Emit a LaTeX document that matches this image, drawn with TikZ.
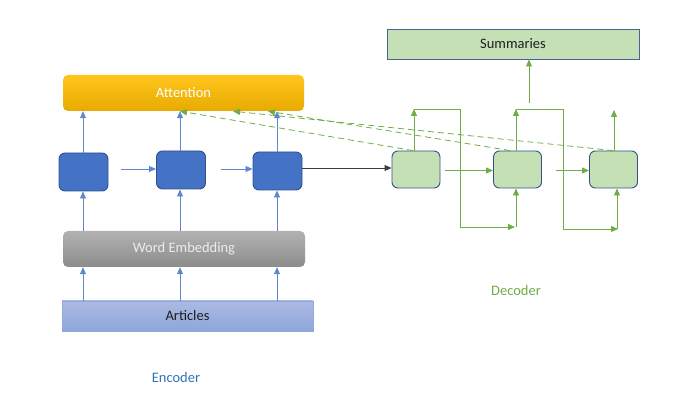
\documentclass[tikz,border=0pt]{standalone}
\usepackage{fontspec}
\setmainfont{Carlito}
\usetikzlibrary{arrows.meta,calc}
\definecolor{encblue}{HTML}{4472C4}
\definecolor{encborder}{HTML}{2F528F}
\definecolor{decfill}{HTML}{C5E0B4}
\definecolor{decgreen}{HTML}{70AD47}
\definecolor{enclabel}{HTML}{2E75B6}
\tikzset{
  every node/.style={font=\fontsize{14.5}{17}\selectfont, inner sep=0pt},
  encbox/.style={draw=encborder, fill=encblue, rounded corners=6pt, line width=0.9pt, minimum width=49pt, minimum height=38pt},
  decbox/.style={draw=encborder, fill=decfill, rounded corners=6pt, line width=0.9pt, minimum width=48pt, minimum height=37pt},
  barrow/.style={draw=encblue!85, line width=0.8pt, -{Triangle[length=7pt,width=6pt]}},
  garrow/.style={draw=decgreen, line width=0.8pt, -{Triangle[length=7pt,width=6pt]}},
  gline/.style={draw=decgreen, line width=0.8pt},
  gdash/.style={draw=decgreen, line width=0.8pt, dash pattern=on 6pt off 4pt, -{Triangle[length=7pt,width=6pt]}},
}
\begin{document}
\begin{tikzpicture}[x=1pt,y=-1pt]
\useasboundingbox (0,0) rectangle (690,411);
% encoder side
\node[rounded corners=5pt, top color=orange!30!yellow!100!white, bottom color=black!10!orange!80!yellow, shading angle=0, minimum width=241pt, minimum height=36pt, text=white, top color={rgb,255:red,255;green,198;blue,30}, bottom color={rgb,255:red,232;green,170;blue,0}] (att) at (183.5,93) {Attention};
\node[rounded corners=5pt, top color={rgb,255:red,178;green,178;blue,178}, bottom color={rgb,255:red,140;green,140;blue,140}, minimum width=242pt, minimum height=36pt, text={rgb,255:red,236;green,236;blue,236}] (we) at (184,249) {Word Embedding};
\node[draw={rgb,255:red,143;green,170;blue,220}, line width=0.9pt, top color={rgb,255:red,172;green,186;blue,226}, bottom color={rgb,255:red,142;green,166;blue,218}, minimum width=251pt, minimum height=30pt, text={rgb,255:red,30;green,30;blue,30}] (art) at (187.5,316) {Articles};
\node[encbox] (e1) at (83.5,172) {};
\node[encbox] (e2) at (181,170) {};
\node[encbox] (e3) at (277.5,171) {};
% encoder arrows
\foreach \n/\xx in {e1/83,e2/180,e3/277}{
  \draw[barrow] (art.north -| \xx,0) -- (we.south -| \xx,0);
  \draw[barrow] (we.north -| \xx,0) -- (\n.south -| \xx,0);
  \draw[barrow] (\n.north -| \xx,0) -- (att.south -| \xx,0);
}
\draw[barrow] ($(e1.east)+(13,-3)$) -- (e2.west |- 0,169);
\draw[barrow] ($(e2.east)+(15,-1)$) -- (e3.west |- 0,169);
% decoder side
\node[draw={rgb,255:red,70;green,100;blue,150}, line width=0.9pt, fill=decfill, minimum width=252pt, minimum height=30pt, text={rgb,255:red,30;green,30;blue,30}] (sum) at (513,44) {Summaries};
\node[decbox] (d1) at (416,169.5) {};
\node[decbox] (d2) at (517.5,169.5) {};
\node[decbox] (d3) at (613.5,169.5) {};
\draw[draw={rgb,255:red,60;green,60;blue,60}, line width=0.9pt, -{Triangle[length=7pt,width=6pt]}] (e3.east |- 0,168) -- (d1.west |- 0,168);
\draw[garrow] ($(d1.east)+(5,1)$) -- (d2.west |- 0,170.5);
\draw[garrow] ($(d2.east)+(14,1)$) -- (d3.west |- 0,170.5);
% summary arrow
\coordinate (s0) at (529,103);
\draw[garrow] (s0) -- (sum.south -| s0);
% feedback loops
\coordinate (f1) at (414,109);
\coordinate (f2) at (516,109);
\coordinate (b2) at (516,227);
\coordinate (b3) at (617,229);
\draw[garrow] (d1.north -| f1) -- (f1);
\draw[gline] (f1) -- (460,109) -- (460,227);
\draw[garrow] (460,227) -- ($(b2)+(-1,0)$);
\draw[garrow] (b2) -- (d2.south -| b2);
\draw[garrow] (d2.north -| f2) -- (f2);
\draw[gline] (f2) -- (563,109) -- (563,229);
\draw[garrow] (563,229) -- ($(b3)+(1,0)$);
\draw[garrow] (b3) -- (d3.south -| b3);
\draw[garrow] (d3.north -| 614,0) -- (614,110);
% dashed attention links
\draw[gdash] (d1.north -| 413,0) -- (att.south -| 180,0);
\draw[gdash] (d2.north -| 510,0) -- (att.south -| 268,0);
\draw[gdash] (d3.north -| 613,0) -- (att.south -| 233,0);
% labels
\node[text=decgreen] (dec) at (516,291) {Decoder};
\node[text=enclabel] (enc) at (176,378) {Encoder};
\end{tikzpicture}
\end{document}
